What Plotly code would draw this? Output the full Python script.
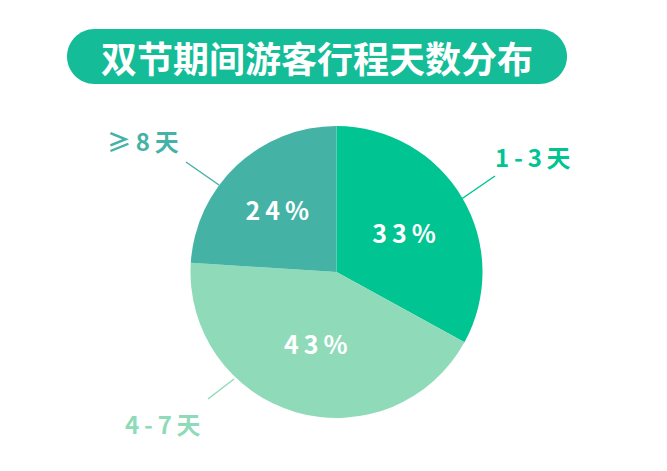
import plotly.graph_objects as go

W, H = 667, 471

# data
title_text = "双节期间游客行程天数分布"
labels = ["1-3天", "4-7天", "≥8天"]
shares = [33, 43, 24]
colors = ["#00c491", "#8fdbb9", "#45b2a6"]


def px(x, y):
    # pixel -> paper
    return x / W, 1 - y / H


def pill_path(x0, y0, x1, y1):
    r = (y1 - y0) / 2
    k = 0.5523 * r
    pts = []
    pts.append("M %.5f %.5f" % px(x0 + r, y0))
    pts.append("L %.5f %.5f" % px(x1 - r, y0))
    c1, c2, e = px(x1 - r + k, y0), px(x1, y0 + r - k), px(x1, y0 + r)
    pts.append("C %.5f %.5f %.5f %.5f %.5f %.5f" % (*c1, *c2, *e))
    c1, c2, e = px(x1, y0 + r + k), px(x1 - r + k, y1), px(x1 - r, y1)
    pts.append("C %.5f %.5f %.5f %.5f %.5f %.5f" % (*c1, *c2, *e))
    pts.append("L %.5f %.5f" % px(x0 + r, y1))
    c1, c2, e = px(x0 + r - k, y1), px(x0, y0 + r + k), px(x0, y0 + r)
    pts.append("C %.5f %.5f %.5f %.5f %.5f %.5f" % (*c1, *c2, *e))
    c1, c2, e = px(x0, y0 + r - k), px(x0 + r - k, y0), px(x0 + r, y0)
    pts.append("C %.5f %.5f %.5f %.5f %.5f %.5f" % (*c1, *c2, *e))
    pts.append("Z")
    return " ".join(pts)


# spaced-out percent text, like the wide digits in the original
pct_text = ["<b>" + "\u2009".join(f"{v}%") + "</b>" for v in shares]

fig = go.Figure(go.Pie(
    labels=labels,
    values=shares,
    sort=False,
    direction="clockwise",
    rotation=0,
    marker=dict(colors=colors, line=dict(width=0)),
    text=pct_text,
    textinfo="text",
    textposition="inside",
    insidetextorientation="horizontal",
    insidetextfont=dict(family="Noto Sans CJK SC", size=25, color="white"),
    hoverinfo="label+percent",
    showlegend=False,
    domain=dict(x=[190 / W, 483 / W], y=[1 - 418 / H, 1 - 126 / H]),
))

shapes = [dict(type="path", xref="paper", yref="paper",
               path=pill_path(67, 29, 567, 84),
               fillcolor="#14bc98", line=dict(width=0), layer="below")]

# leader lines (pixel positions)
leaders = [((460, 200), (495, 176)), ((234, 379), (208, 399)), ((219, 185), (186, 162))]
label_pos = [(533, 157), (163, 423), (143, 141)]

annotations = [dict(text="<b>" + title_text + "</b>", x=317 / W, y=1 - 57 / H,
                    xref="paper", yref="paper", showarrow=False,
                    xanchor="center", yanchor="middle",
                    font=dict(family="Noto Sans CJK SC", size=36, color="white"))]

for i, lab in enumerate(labels):
    (ax, ay), (bx, by) = leaders[i]
    a, b = px(ax, ay), px(bx, by)
    shapes.append(dict(type="line", xref="paper", yref="paper",
                       x0=a[0], y0=a[1], x1=b[0], y1=b[1],
                       line=dict(color=colors[i], width=1.5)))
    lx, ly = px(*label_pos[i])
    annotations.append(dict(text="<b>" + "\u2009".join(lab) + "</b>", x=lx, y=ly,
                            xref="paper", yref="paper", showarrow=False,
                            xanchor="center", yanchor="middle",
                            font=dict(family="Noto Sans CJK SC", size=24, color=colors[i])))

fig.update_layout(
    width=W, height=H,
    margin=dict(l=0, r=0, t=0, b=0),
    paper_bgcolor="white",
    plot_bgcolor="white",
    shapes=shapes,
    annotations=annotations,
)

fig.write_html("out.html", config={"displayModeBar": False},
               post_script="document.body.style.margin='0';")
